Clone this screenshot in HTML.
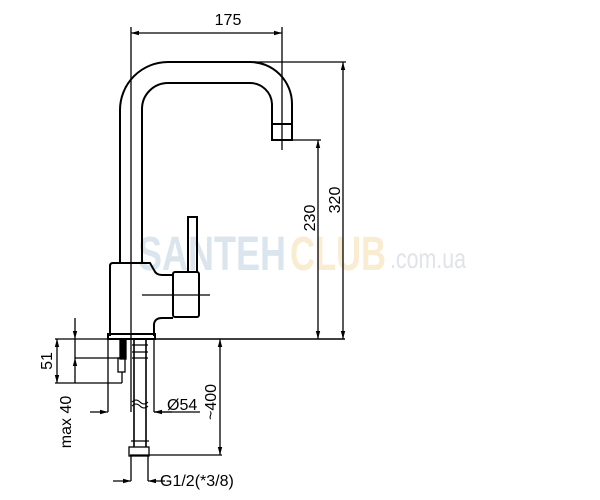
<!DOCTYPE html>
<html><head><style>
html,body{margin:0;padding:0;background:#fff;width:600px;height:500px;overflow:hidden}
svg{display:block}
text{font-family:"Liberation Sans",sans-serif;fill:#000}
</style></head><body>
<svg width="600" height="500" viewBox="0 0 600 500" xmlns="http://www.w3.org/2000/svg">
<defs>
<marker id="a" markerWidth="8" markerHeight="6" refX="8" refY="3" orient="auto-start-reverse" markerUnits="userSpaceOnUse"><path d="M0,0.8 L8,3 L0,5.2z" fill="#000"/></marker>
</defs>
<g font-family="Liberation Sans Narrow, Liberation Sans, sans-serif" font-weight="bold">
<text x="138" y="270" font-size="48" style="fill:#dbe5ee" textLength="148" lengthAdjust="spacingAndGlyphs">SANTEH</text>
<text x="290" y="270" font-size="48" style="fill:#faecd0" textLength="96" lengthAdjust="spacingAndGlyphs">CLUB</text>
<text x="390" y="268" font-size="28" font-weight="normal" style="fill:#e0e3e8" textLength="76" lengthAdjust="spacingAndGlyphs">.com.ua</text>
</g>
<g fill="none" stroke="#000" stroke-width="1.3">
<path d="M120,263 V110 A48,48 0 0 1 168,62 H250 A42,42 0 0 1 292,104 V140 H272 V104 A22,22 0 0 0 250,83 H168 A26,26 0 0 0 142,109 V263" stroke-width="2"/>
<line x1="272" y1="124" x2="292" y2="124" stroke-width="2"/>
<path d="M110,336 V266 Q110,263 113,263 H150 L154,270 Q156,275 162,275 H173 M173,318 H162 Q155,318 154,324 V336" stroke-width="2"/>
<rect x="173" y="272" width="26" height="45" rx="2" stroke-width="2"/>
<rect x="188" y="217" width="9" height="55" stroke-width="2"/>
<line x1="142" y1="295" x2="210" y2="295"/>
<rect x="108" y="334" width="47" height="5" stroke-width="2"/>
<line x1="108" y1="339" x2="345" y2="339" stroke-width="1.6"/>
<line x1="131" y1="27" x2="131" y2="412"/>
<line x1="282" y1="27" x2="282" y2="150"/>
<line x1="131" y1="33" x2="282" y2="33" marker-start="url(#a)" marker-end="url(#a)"/>
<line x1="190" y1="62" x2="346" y2="62"/>
<line x1="343" y1="62" x2="343" y2="339" marker-start="url(#a)" marker-end="url(#a)"/>
<line x1="282" y1="140" x2="321" y2="140"/>
<line x1="318" y1="140" x2="318" y2="339" marker-start="url(#a)" marker-end="url(#a)"/>
<line x1="108" y1="339" x2="108" y2="412"/>
<line x1="154" y1="339" x2="154" y2="412"/>
<line x1="90" y1="412" x2="108" y2="412" marker-end="url(#a)"/>
<line x1="172" y1="412" x2="154" y2="412" marker-end="url(#a)"/>
<line x1="154" y1="412" x2="200" y2="412"/>
<line x1="55" y1="339" x2="108" y2="339"/>
<line x1="55" y1="383" x2="122" y2="383"/>
<line x1="57" y1="339" x2="57" y2="383" marker-start="url(#a)" marker-end="url(#a)"/>
<line x1="75" y1="318" x2="75" y2="339" marker-end="url(#a)"/>
<line x1="75" y1="383" x2="75" y2="358" marker-end="url(#a)"/>
<line x1="75" y1="339" x2="75" y2="358"/>
<line x1="75" y1="358" x2="120" y2="358"/>
<rect x="120" y="339" width="6" height="20" fill="#000"/>
<rect x="118" y="358" width="7" height="14"/>
<line x1="122" y1="372" x2="122" y2="383"/>
<path d="M134,339 V447 M146,339 V447" stroke-width="1.6"/>
<path d="M132,345 H148 M132,352 H148 M132,358 H148" />
<path d="M131,441 H149"/>
<rect x="129" y="447" width="20" height="9"/>
<path d="M131,456 V481 M148,456 V481"/>
<path d="M132,402 q4,-4 8,0 t8,0 M132,406 q4,-4 8,0 t8,0" stroke-width="1"/>
<line x1="130" y1="455" x2="222" y2="455"/>
<line x1="220" y1="339" x2="220" y2="455" marker-start="url(#a)" marker-end="url(#a)"/>
<line x1="113" y1="481" x2="131" y2="481" marker-end="url(#a)"/>
<line x1="165" y1="481" x2="148" y2="481" marker-end="url(#a)"/>
</g>
<text x="228" y="25" font-size="16" text-anchor="middle">175</text>
<text transform="translate(340,200) rotate(-90)" font-size="16" text-anchor="middle">320</text>
<text transform="translate(315,218) rotate(-90)" font-size="16" text-anchor="middle">230</text>
<text transform="translate(52,361) rotate(-90)" font-size="16" text-anchor="middle">51</text>
<text transform="translate(71,422) rotate(-90)" font-size="16" text-anchor="middle">max 40</text>
<text x="167" y="410" font-size="16">Ø54</text>
<text transform="translate(216,402) rotate(-90)" font-size="16" text-anchor="middle">~400</text>
<text x="160" y="486" font-size="16">G1/2(*3/8)</text>
</svg>
</body></html>
